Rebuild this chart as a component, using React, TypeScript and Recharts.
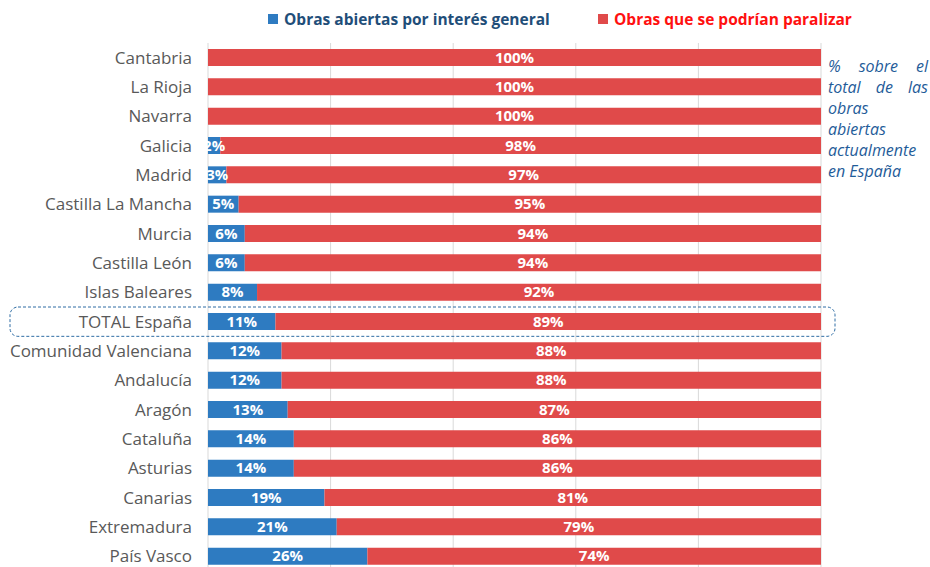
import { BarChart, Bar, XAxis, YAxis, CartesianGrid, LabelList, ReferenceArea } from "recharts";

const regions = [
  "Cantabria",
  "La Rioja",
  "Navarra",
  "Galicia",
  "Madrid",
  "Castilla La Mancha",
  "Murcia",
  "Castilla León",
  "Islas Baleares",
  "TOTAL España",
  "Comunidad Valenciana",
  "Andalucía",
  "Aragón",
  "Cataluña",
  "Asturias",
  "Canarias",
  "Extremadura",
  "País Vasco",
];
const interesGeneral = [0, 0, 0, 2, 3, 5, 6, 6, 8, 11, 12, 12, 13, 14, 14, 19, 21, 26];
const paralizables = [100, 100, 100, 98, 97, 95, 94, 94, 92, 89, 88, 88, 87, 86, 86, 81, 79, 74];
const xTicks = [0, 20, 40, 60, 80, 100];

const BLUE = "#2E7BC1";
const RED = "#E04A4A";
const FONT = "'Open Sans', sans-serif";

const data = regions.map((region, i) => ({
  region,
  general: interesGeneral[i],
  paralizar: paralizables[i],
}));

const pct = (v: any) => (v ? `${v}%` : "");

function LegendItem({ color, textColor, label, left }: { color: string; textColor: string; label: string; left: number }) {
  return (
    <div
      style={{
        position: "absolute",
        left,
        top: 8,
        display: "flex",
        alignItems: "center",
        gap: 6,
        color: textColor,
        fontFamily: FONT,
        fontWeight: 700,
        fontSize: 15.5,
        whiteSpace: "nowrap",
      }}
    >
      <span style={{ width: 10, height: 10, background: color, display: "inline-block" }} />
      {label}
    </div>
  );
}

// dashed rounded frame around the TOTAL row, reaching out over the label
function TotalBox(props: any) {
  const { x, y, width, height } = props;
  return (
    <rect
      x={x - 198}
      y={y}
      width={width + 212}
      height={height}
      rx={8}
      fill="none"
      stroke="#2E6DA4"
      strokeDasharray="3 2"
      strokeWidth={1}
    />
  );
}

export default function App() {
  return (
    <div style={{ position: "absolute", left: 0, top: 0, width: 930, height: 567, overflow: "hidden", background: "#fff" }}>
      <BarChart
        width={930}
        height={580}
        data={data}
        layout="vertical"
        margin={{ top: 43, right: 109, left: 0, bottom: 9 }}
        barSize={17}
      >
        <CartesianGrid vertical horizontal={false} stroke="#D9D9D9" />
        <XAxis type="number" domain={[0, 100]} ticks={xTicks} hide />
        <YAxis
          type="category"
          dataKey="region"
          width={208}
          axisLine={false}
          tickLine={false}
          tickSize={0}
          tickMargin={16}
          interval={0}
          tick={{ fontSize: 17, fill: "#595959", fontFamily: FONT }}
        />
        <ReferenceArea y1="TOTAL España" y2="TOTAL España" shape={<TotalBox />} />
        <Bar dataKey="general" name="Obras abiertas por interés general" stackId="a" fill={BLUE} isAnimationActive={false}>
          <LabelList
            dataKey="general"
            position="center"
            formatter={pct}
            fill="#fff"
            style={{ fontSize: 15, fontWeight: 700, fontFamily: FONT }}
          />
        </Bar>
        <Bar dataKey="paralizar" name="Obras que se podrían paralizar" stackId="a" fill={RED} isAnimationActive={false}>
          <LabelList
            dataKey="paralizar"
            position="center"
            formatter={pct}
            fill="#fff"
            style={{ fontSize: 15, fontWeight: 700, fontFamily: FONT }}
          />
        </Bar>
      </BarChart>
      <LegendItem color={BLUE} textColor="#1F4E79" label="Obras abiertas por interés general" left={268} />
      <LegendItem color={RED} textColor="#FF1010" label="Obras que se podrían paralizar" left={598} />
      <div
        style={{
          position: "absolute",
          left: 828,
          top: 56,
          width: 100,
          fontFamily: FONT,
          fontStyle: "italic",
          fontSize: 16,
          lineHeight: "21px",
          color: "#1F5C99",
        }}
      >
        <div style={{ textAlign: "justify", textAlignLast: "justify" }}>% sobre el</div>
        <div style={{ textAlign: "justify", textAlignLast: "justify" }}>total de las</div>
        <div>obras</div>
        <div>abiertas</div>
        <div>actualmente</div>
        <div>en España</div>
      </div>
    </div>
  );
}
